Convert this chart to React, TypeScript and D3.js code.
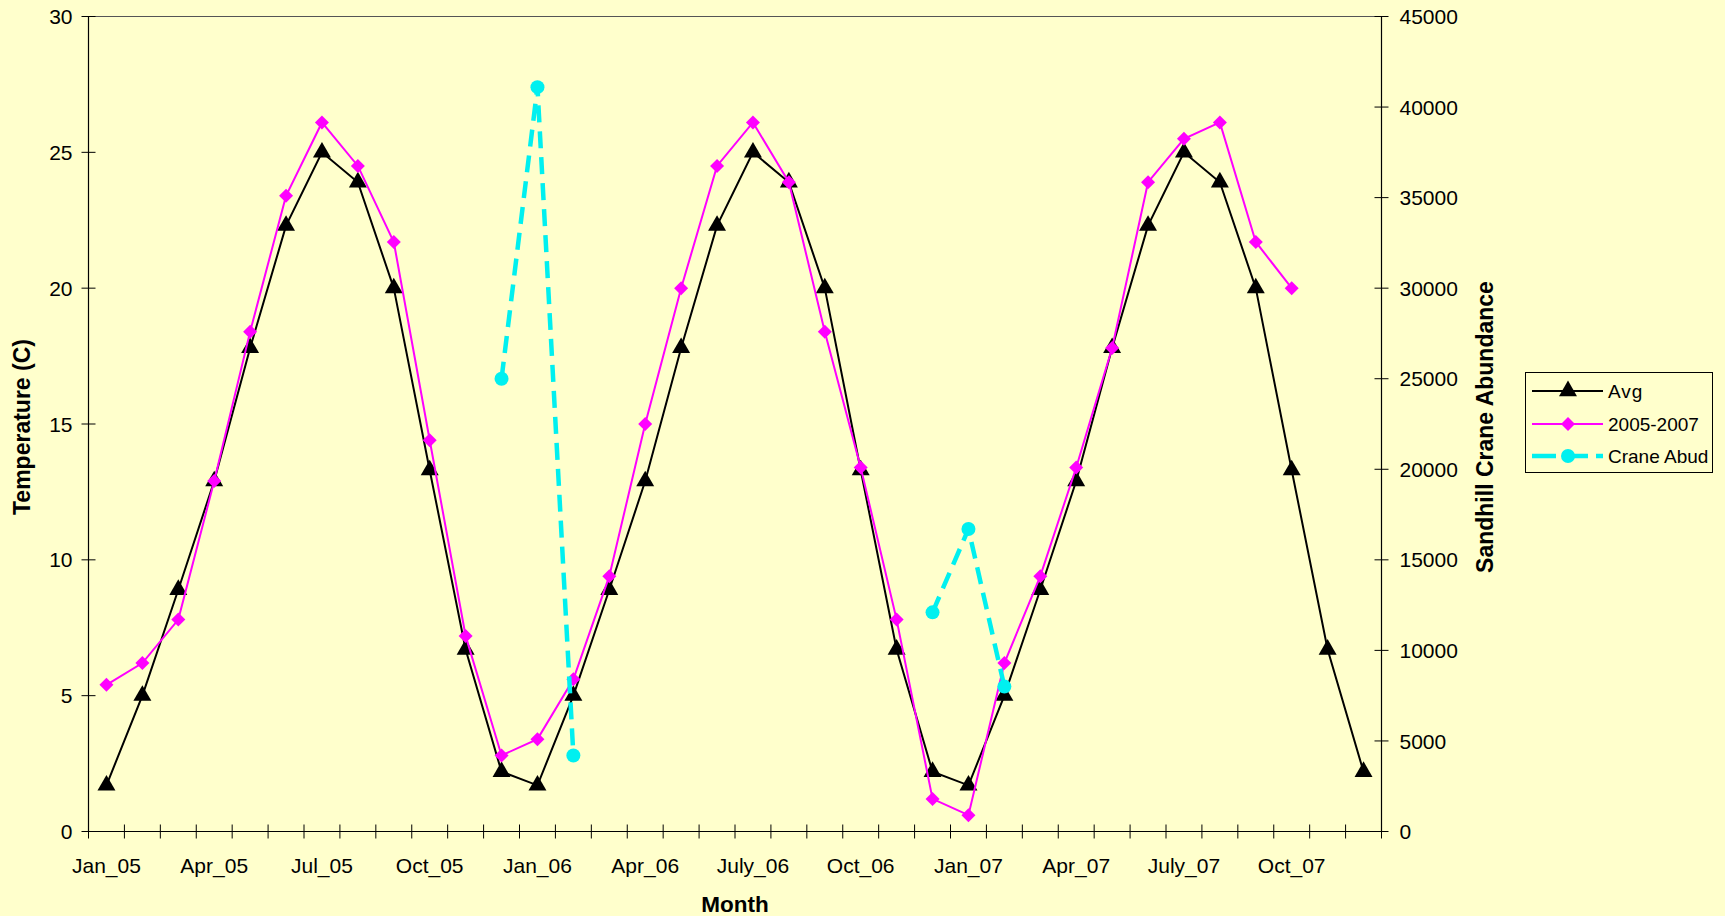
import React from "react";
import * as d3 from "d3";

const months: string[] = [
  "Jan_05","Feb_05","Mar_05","Apr_05","May_05","Jun_05","Jul_05","Aug_05","Sep_05","Oct_05","Nov_05","Dec_05",
  "Jan_06","Feb_06","Mar_06","Apr_06","May_06","Jun_06","July_06","Aug_06","Sep_06","Oct_06","Nov_06","Dec_06",
  "Jan_07","Feb_07","Mar_07","Apr_07","May_07","Jun_07","July_07","Aug_07","Sep_07","Oct_07","Nov_07","Dec_07",
];
const tickLabels: string[] = [
  "Jan_05","Apr_05","Jul_05","Oct_05","Jan_06","Apr_06","July_06","Oct_06","Jan_07","Apr_07","July_07","Oct_07",
];

const avgTemp: number[] = [
  1.7, 5.0, 8.9, 12.9, 17.8, 22.3, 25.0, 23.9, 20.0, 13.3, 6.7, 2.2,
  1.7, 5.0, 8.9, 12.9, 17.8, 22.3, 25.0, 23.9, 20.0, 13.3, 6.7, 2.2,
  1.7, 5.0, 8.9, 12.9, 17.8, 22.3, 25.0, 23.9, 20.0, 13.3, 6.7, 2.2,
];
const temp0507: (number | null)[] = [
  5.4, 6.2, 7.8, 12.9, 18.4, 23.4, 26.1, 24.5, 21.7, 14.4, 7.2, 2.8,
  3.4, 5.6, 9.4, 15.0, 20.0, 24.5, 26.1, 23.9, 18.4, 13.4, 7.8, 1.2,
  0.6, 6.2, 9.4, 13.4, 17.8, 23.9, 25.5, 26.1, 21.7, 20.0, null, null,
];
const craneAbud: (number | null)[] = [
  null, null, null, null, null, null, null, null, null, null, null, 25000,
  41100, 4200, null, null, null, null, null, null, null, null, null, 12100,
  16700, 8000, null, null, null, null, null, null, null, null, null, null,
];
const leftTicks: number[] = [0, 5, 10, 15, 20, 25, 30];
const rightTicks: number[] = [0, 5000, 10000, 15000, 20000, 25000, 30000, 35000, 40000, 45000];

const W = 1725, H = 916;
const L = 88.5, R = 1381.5, T = 16.5, B = 831.5;
const BG = "#FFFFCC";
const FONT = "'Liberation Sans', Arial, sans-serif";
const MAG = "#FF00FF";
const CYAN = "#00F0F0";

export default function App() {
  const x = d3.scaleBand<string>().domain(months).range([L, R]);
  const cx = (m: string) => (x(m) as number) + x.bandwidth() / 2;
  const y = d3.scaleLinear().domain([0, 30]).range([B, T]);
  const y2 = d3.scaleLinear().domain([0, 45000]).range([B, T]);

  const avgData = months.map((m, i) => ({ m, v: avgTemp[i] }));
  const magData = months.map((m, i) => ({ m, v: temp0507[i] }));
  const craneData = months.map((m, i) => ({ m, v: craneAbud[i] }));

  const lineT = d3.line<{ m: string; v: number | null }>()
    .defined((d) => d.v != null)
    .x((d) => cx(d.m))
    .y((d) => y(d.v as number));
  const lineC = d3.line<{ m: string; v: number | null }>()
    .defined((d) => d.v != null)
    .x((d) => cx(d.m))
    .y((d) => y2(d.v as number));

  const tri = d3.symbol().type(d3.symbolTriangle).size(140)() as string;
  const dia = d3.symbol().type(d3.symbolDiamond2).size(125)() as string;

  const xTickPos = months.map((m) => x(m) as number).concat([R]);

  return (
    <svg width={W} height={H} style={{ position: "absolute", left: 0, top: 0, background: BG }} fontFamily={FONT}>
      <rect x={0} y={0} width={W} height={H} fill={BG} />
      <line x1={L} x2={R} y1={T} y2={T} stroke="#555" strokeWidth={1} />
      <line x1={L} x2={L} y1={T} y2={B} stroke="#000" strokeWidth={1.2} />
      <line x1={R} x2={R} y1={T} y2={B} stroke="#000" strokeWidth={1.2} />
      <line x1={L} x2={R} y1={B} y2={B} stroke="#000" strokeWidth={1.2} />
      {leftTicks.map((t) => (
        <g key={"l" + t}>
          <line x1={L - 7} x2={L + 7} y1={y(t)} y2={y(t)} stroke="#000" strokeWidth={1} />
          <text x={L - 16} y={y(t)} dy="0.36em" textAnchor="end" fontSize={21}>{t}</text>
        </g>
      ))}
      {rightTicks.map((t) => (
        <g key={"r" + t}>
          <line x1={R - 7} x2={R + 7} y1={y2(t)} y2={y2(t)} stroke="#000" strokeWidth={1} />
          <text x={R + 18} y={y2(t)} dy="0.36em" textAnchor="start" fontSize={21}>{t}</text>
        </g>
      ))}
      {xTickPos.map((p, i) => (
        <line key={"x" + i} x1={p} x2={p} y1={B - 7} y2={B + 7} stroke="#000" strokeWidth={1} />
      ))}
      {months.map((m, i) =>
        tickLabels.includes(m) ? (
          <text key={"xl" + i} x={cx(m)} y={873} textAnchor="middle" fontSize={21}>{m}</text>
        ) : null
      )}
      <text transform={`translate(30,427) rotate(-90)`} textAnchor="middle" fontSize={23} fontWeight="bold">Temperature (C)</text>
      <text transform={`translate(1493,427) rotate(-90)`} textAnchor="middle" fontSize={23} fontWeight="bold">Sandhill Crane Abundance</text>
      <text x={(L + R) / 2} y={912} textAnchor="middle" fontSize={22.5} fontWeight="bold">Month</text>

      <path d={lineT(avgData) || ""} fill="none" stroke="#000" strokeWidth={2} />
      {avgData.map((d, i) => (
        <path key={"a" + i} d={tri} transform={`translate(${cx(d.m)},${y(d.v)})`} fill="#000" />
      ))}
      <path d={lineT(magData) || ""} fill="none" stroke={MAG} strokeWidth={2} />
      {magData.filter((d) => d.v != null).map((d, i) => (
        <path key={"m" + i} d={dia} transform={`translate(${cx(d.m)},${y(d.v as number)})`} fill={MAG} />
      ))}
      <path d={lineC(craneData) || ""} fill="none" stroke={CYAN} strokeWidth={4.5} strokeDasharray="17,9" />
      {craneData.filter((d) => d.v != null).map((d, i) => (
        <circle key={"c" + i} cx={cx(d.m)} cy={y2(d.v as number)} r={7} fill={CYAN} />
      ))}

      <rect x={1525.5} y={372.5} width={187} height={100} fill={BG} stroke="#000" strokeWidth={1} />
      <line x1={1532} x2={1603} y1={391} y2={391} stroke="#000" strokeWidth={2} />
      <path d={tri} transform="translate(1568,391)" fill="#000" />
      <text x={1608} y={391} dy="0.36em" fontSize={19} letterSpacing={1}>Avg</text>
      <line x1={1532} x2={1603} y1={424} y2={424} stroke={MAG} strokeWidth={2} />
      <path d={dia} transform="translate(1568,424)" fill={MAG} />
      <text x={1608} y={424} dy="0.36em" fontSize={19}>2005-2007</text>
      <line x1={1532} x2={1603} y1={456} y2={456} stroke={CYAN} strokeWidth={4.5} strokeDasharray="24,8" />
      <circle cx={1568} cy={456} r={7} fill={CYAN} />
      <text x={1608} y={456} dy="0.36em" fontSize={19}>Crane Abud</text>
    </svg>
  );
}
